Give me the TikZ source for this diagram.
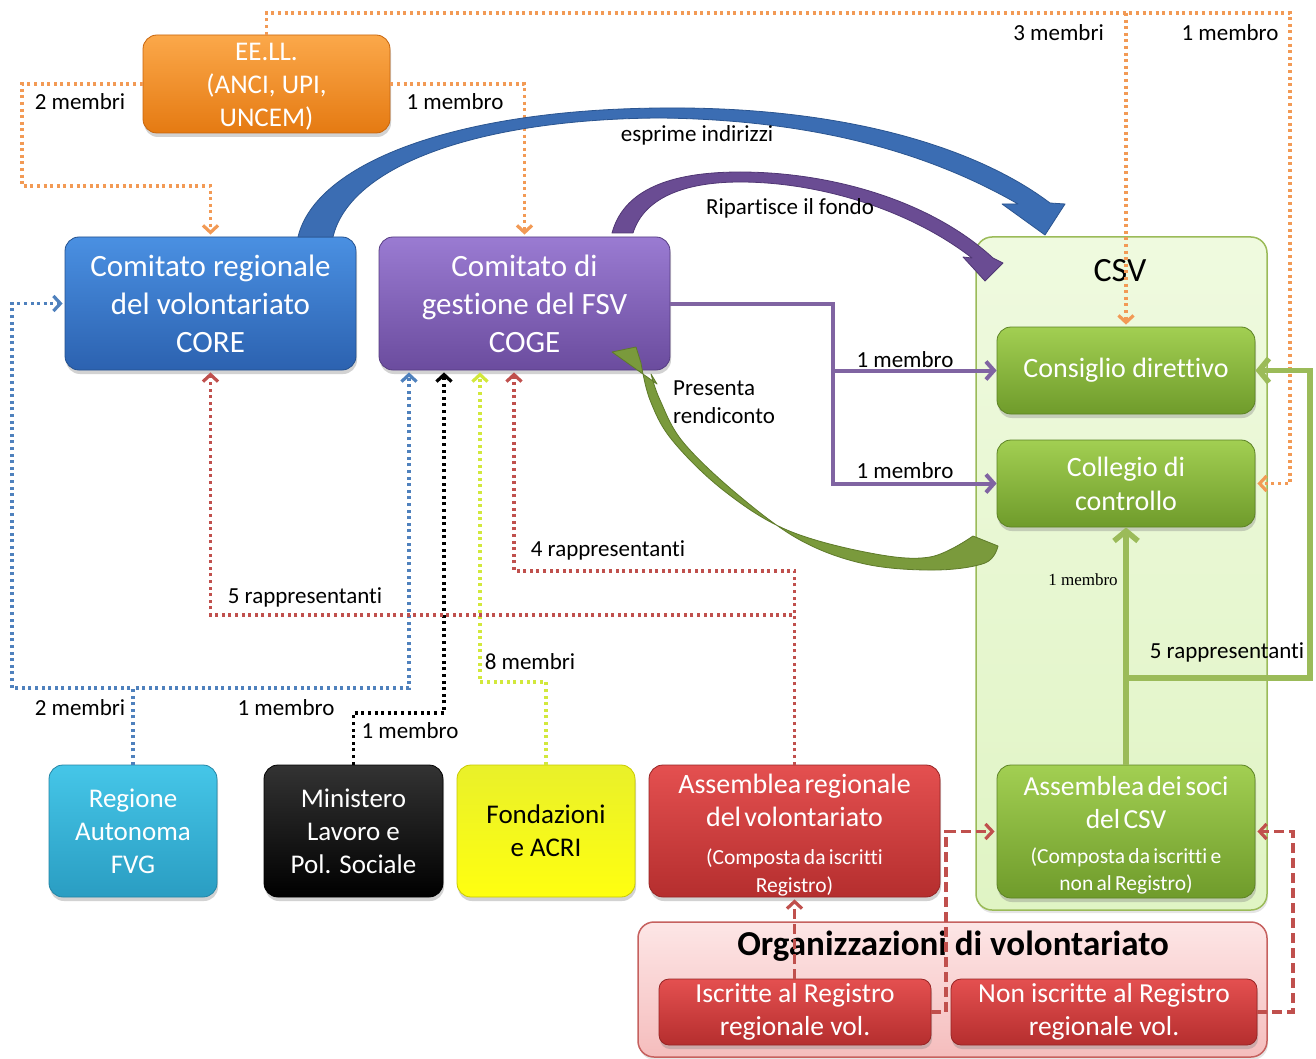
\documentclass[tikz,border=0pt]{standalone}
\usepackage{fontspec}
\setmainfont{Carlito}[Ligatures={NoCommon}]
\newfontfamily\smallserif{Liberation Serif}
\usetikzlibrary{arrows.meta,shadows,calc}
\newcommand\setfs[2]{\fontsize{#1}{#2}\selectfont}
\newcommand\dn[1]{\raisebox{-3pt}[\height][\depth]{#1}}
\definecolor{orT}{HTML}{FBA84A}\definecolor{orB}{HTML}{E57A12}\definecolor{orD}{HTML}{C8650C}
\definecolor{blT}{HTML}{4A90E2}\definecolor{blB}{HTML}{2C62B0}\definecolor{blD}{HTML}{24518F}
\definecolor{puT}{HTML}{9A7BD2}\definecolor{puB}{HTML}{6B4C9E}\definecolor{puD}{HTML}{563C82}
\definecolor{grT}{HTML}{A2CF52}\definecolor{grB}{HTML}{6F9B2B}\definecolor{grD}{HTML}{5C8224}
\definecolor{cyT}{HTML}{45C6E8}\definecolor{cyB}{HTML}{2A9DC2}\definecolor{cyD}{HTML}{2385A5}
\definecolor{kT}{HTML}{333333}\definecolor{kB}{HTML}{000000}
\definecolor{yeT}{HTML}{E9F02A}\definecolor{yeB}{HTML}{FFFF10}\definecolor{yeD}{HTML}{C9C900}
\definecolor{reT}{HTML}{E45050}\definecolor{reB}{HTML}{B52E2E}\definecolor{reD}{HTML}{962424}
\definecolor{dOr}{HTML}{F29A55}\definecolor{dBl}{HTML}{4F81BD}\definecolor{dRe}{HTML}{C0504D}
\definecolor{dYe}{HTML}{D2E83C}\definecolor{lPu}{HTML}{8064A2}\definecolor{lGr}{HTML}{9BBB59}
\definecolor{aBl}{HTML}{3B6DB3}\definecolor{aBlD}{HTML}{2B5590}
\definecolor{aPu}{HTML}{6A4C93}\definecolor{aPuD}{HTML}{503774}
\definecolor{aGr}{HTML}{7A9A3C}\definecolor{aGrD}{HTML}{5E7A2A}
\definecolor{csvT}{HTML}{EFFADF}\definecolor{csvB}{HTML}{E0F4C4}
\definecolor{orgT}{HTML}{FDE6E6}\definecolor{orgB}{HTML}{F5BDBD}
\begin{document}
\begin{tikzpicture}[x=1pt,y=-1pt,
  bx/.style={rounded corners=14pt, inner sep=2pt, align=center, text=white, line width=0.8pt,
    drop shadow={shadow xshift=1pt, shadow yshift=-4pt, opacity=0.35}},
  lbl/.style={font=\setfs{23}{28}, inner sep=1pt},
  smalllbl/.style={font=\smallserif\setfs{17}{20}, inner sep=1pt},
  dotl/.style={line width=3.2pt, dash pattern=on 3pt off 3.6pt},
  odot/.style={dotl, draw=dOr},
  bdot/.style={dotl, draw=dBl},
  rdot/.style={dotl, draw=dRe},
  ydot/.style={dotl, draw=dYe},
  kdot/.style={dotl, draw=black},
  rdash/.style={line width=3.2pt, draw=dRe, dash pattern=on 10pt off 5pt},
  pline/.style={line width=4pt, draw=lPu},
  gline/.style={line width=5.5pt, draw=lGr},
  arr/.style={-{Straight Barb[length=7pt,width=15pt]}, shorten >=2pt},
  parr/.style={-{Straight Barb[length=8pt,width=18pt]}},
  garr/.style={-{Straight Barb[length=10pt,width=24pt]}}
]
\fill[white] (0,0) rectangle (1316,1059);
\useasboundingbox (0,0) rectangle (1316,1059);

% containers
\node[rounded corners=16pt, minimum width=291pt, minimum height=673pt, draw=lGr, line width=1.5pt,
  top color=csvT, bottom color=csvB, drop shadow={shadow xshift=1pt, shadow yshift=-3pt, opacity=0.2}] (csv) at (1121.5,573.5) {};
\node[font=\setfs{34}{40}] (csvlabel) at (1120,271) {CSV};
\node[rounded corners=16pt, minimum width=629pt, minimum height=135pt, draw=dRe!90, line width=1.5pt,
  top color=orgT, bottom color=orgB, drop shadow={shadow xshift=1pt, shadow yshift=-3pt, opacity=0.2}] (org) at (952.5,989.5) {};
\node[font=\bfseries\setfs{35}{40}] (orglabel) at (953,946) {Organizzazioni di volontariato};

% boxes
\node[bx, minimum width=247pt, minimum height=98pt, top color=orT, bottom color=orB, draw=orD, font=\setfs{27}{33}] (eell) at (266.5,84) {\dn{EE.LL.}\\\dn{(ANCI, UPI,}\\\dn{UNCEM)}};
\node[bx, minimum width=291pt, minimum height=133pt, top color=blT, bottom color=blB, draw=blD, font=\setfs{31}{38}] (core) at (210.5,303.5) {Comitato regionale\\del volontariato\\CORE};
\node[bx, minimum width=291pt, minimum height=133pt, top color=puT, bottom color=puB, draw=puD, font=\setfs{31}{38}] (coge) at (524.5,303.5) {Comitato di\\gestione del FSV\\COGE};
\node[bx, minimum width=258pt, minimum height=87pt, top color=grT, bottom color=grB, draw=grD, font=\setfs{28}{34}] (consiglio) at (1126,370.5) {Consiglio direttivo};
\node[bx, minimum width=258pt, minimum height=87pt, top color=grT, bottom color=grB, draw=grD, font=\setfs{28}{34}] (collegio) at (1126,483.5) {Collegio di\\controllo};
\node[bx, inner sep=0pt, minimum width=258pt, minimum height=133pt, text width=250pt, top color=grT, bottom color=grB, draw=grD] (asssoci) at (1126,831.5)
  {{\setfs{27.5}{33}\rule{0pt}{27pt}Assemblea dei soci\\del CSV\par}\vspace{8pt}{\setfs{21.5}{27}(Composta da iscritti e\\non al Registro)\par}};
\node[bx, minimum width=168pt, minimum height=132pt, top color=cyT, bottom color=cyB, draw=cyD, font=\setfs{27}{33}] (regione) at (133,831) {Regione\\Autonoma\\FVG};
\node[bx, minimum width=179pt, minimum height=132pt, top color=kT, bottom color=kB, draw=black, font=\setfs{27}{33}] (ministero) at (353.5,831) {Ministero\\Lavoro e\\Pol. Sociale};
\node[bx, minimum width=178pt, minimum height=132pt, top color=yeT, bottom color=yeB, draw=yeD, text=black, font=\setfs{27}{33}] (fondazioni) at (546,831) {Fondazioni\\e ACRI};
\node[bx, inner sep=0pt, minimum width=291pt, minimum height=132pt, text width=283pt, top color=reT, bottom color=reB, draw=reD] (assreg) at (794.5,831)
  {{\setfs{28}{33}\rule{0pt}{27pt}Assemblea regionale\\del volontariato\par}\vspace{10pt}{\setfs{21.5}{28}(Composta da iscritti\\Registro)\par}};
\node[bx, rounded corners=10pt, minimum width=272pt, minimum height=66pt, top color=reT, bottom color=reB, draw=reD, font=\setfs{27.5}{33}] (iscritte) at (795,1012) {Iscritte al Registro\\regionale vol.};
\node[bx, rounded corners=10pt, minimum width=306pt, minimum height=66pt, top color=reT, bottom color=reB, draw=reD, font=\setfs{27.5}{33}] (noniscritte) at (1104,1012) {Non iscritte al Registro\\regionale vol.};

% orange dotted (EE.LL.)
\draw[odot,arr] (eell.west) -| (22,186) -| (core.north);
\draw[odot,arr] (eell.east) -| (coge.north);
\draw[odot,arr] (eell.north) |- (1290,13) |- (collegio.east);
\draw[odot,arr] (consiglio.north |- 0,13) -- (consiglio.north);

% blue dotted (Regione)
\draw[bdot,arr] (regione.north) |- (12,688) |- (core.west);
\draw[bdot,arr] (regione.north) |- (409,688) -- (coge.south -| 409,0);
% black dotted (Ministero)
\draw[kdot,arr] (ministero.north) |- (444,713) -- (coge.south -| 444,0);
% yellow dotted (Fondazioni)
\draw[ydot,arr] (fondazioni.north) |- (480,682) -- (coge.south -| 480,0);
% red dotted (Assemblea regionale)
\draw[rdot,arr] (assreg.north) |- (514,571) -- (coge.south -| 514,0);
\draw[rdot,arr] (assreg.north) |- (core.south |- 0,615) -- (core.south);

% purple solid (COGE -> CSV organs)
\draw[pline,parr] (coge.east) -| (collegio.west -| 833,0) -- (collegio.west);
\draw[pline,parr] (consiglio.west -| 833,0) -- (consiglio.west);

% green solid (Assemblea soci)
\draw[gline,garr] (asssoci.north) -- (collegio.south);
\draw[gline,garr] (asssoci.north |- 0,678) -| (consiglio.east -| 1310,0) -- (consiglio.east);

% red dashed (Organizzazioni)
\draw[rdash,arr] (assreg.south |- iscritte.north) -- (assreg.south);
\draw[rdash,arr] (iscritte.east) -| (asssoci.west -| 946,0) -- (asssoci.west);
\draw[rdash,arr] (noniscritte.east) -| (asssoci.east -| 1293,0) -- (asssoci.east);

% curved block arrows
\filldraw[fill=aBl, draw=aBlD, line width=0.8pt, line join=round]
  (298,237) .. controls (315,165) and (450,110) .. (660,108)
  .. controls (850,106) and (980,150) .. (1050,203)
  -- (1065,204) -- (1045,235) -- (1002,204) -- (1018,204)
  .. controls (950,165) and (840,120) .. (660,118)
  .. controls (480,119) and (350,165) .. (333,237) -- cycle;
\filldraw[fill=aPu, draw=aPuD, line width=0.8pt, line join=round]
  (612,233) .. controls (625,185) and (680,172) .. (740,172)
  .. controls (830,172) and (930,200) .. (993,258)
  -- (1003,263) -- (985,281) -- (963,257) -- (972,258)
  .. controls (910,210) and (820,182) .. (740,182)
  .. controls (690,182) and (645,195) .. (633,233) -- cycle;
\filldraw[fill=aGr, draw=aGrD, line width=0.8pt, line join=round]
  plot[smooth, tension=0.6] coordinates {(641,363) (650,400) (672,440) (723,490) (787,530) (870,553) (930,557) (973,536)}
  -- (998,546)
  -- plot[smooth, tension=0.6] coordinates {(998,546) (985,563) (935,570) (865,564) (800,540) (737,494) (683,442) (660,400) (651,374)}
  -- (657,384) -- (612,352) -- (636,347) -- cycle;

% labels
\node[lbl] (l2m) at (80,102) {2 membri};
\node[lbl] (l1m) at (455,102) {1 membro};
\node[lbl, anchor=east] (l3m) at (1105,33) {3 membri};
\node[lbl] (l1mb) at (1230,33) {1 membro};
\node[lbl] (lesp) at (697,135) {esprime indirizzi};
\node[lbl] (lrip) at (790,208) {Ripartisce il fondo};
\node[lbl, align=left, anchor=west] (lpres) at (672,402) {Presenta\\rendiconto};
\node[lbl] (lc1) at (905,360) {1 membro};
\node[lbl] (lc2) at (905,471) {1 membro};
\node[lbl] (l4r) at (608,550) {4 rappresentanti};
\node[lbl] (l5r) at (305,597) {5 rappresentanti};
\node[lbl] (l8m) at (530,662) {8 membri};
\node[lbl] (lr2m) at (80,708) {2 membri};
\node[lbl] (lr1m) at (286,708) {1 membro};
\node[lbl] (lmin) at (410,731) {1 membro};
\node[smalllbl] (lcs1) at (1083,580) {1 membro};
\node[lbl] (lcs5) at (1227,652) {5 rappresentanti};
\end{tikzpicture}
\end{document}
